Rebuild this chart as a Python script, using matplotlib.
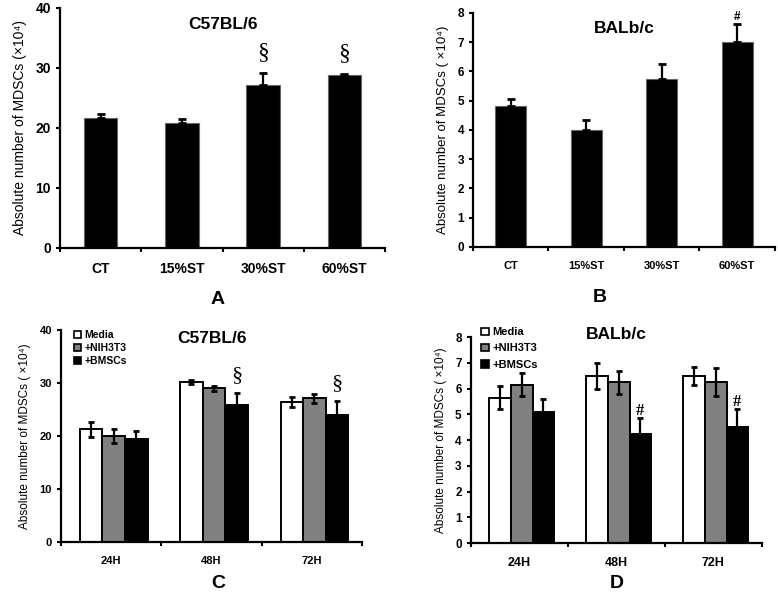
import numpy as np
import matplotlib
matplotlib.use("Agg")
import matplotlib.pyplot as plt
from matplotlib.patches import Patch

plt.rcParams['font.family'] = ['Liberation Sans', 'DejaVu Sans']

# panel A / B data (single series, upward SD only)
groups_ab = ['CT', '15%ST', '30%ST', '60%ST']
a_vals = [21.7, 20.8, 27.2, 28.8]
a_err = [0.6, 0.7, 2.0, 0.2]
a_marks = ['', '', '\u00a7', '\u00a7']
b_vals = [4.8, 4.0, 5.75, 7.0]
b_err = [0.25, 0.32, 0.5, 0.6]
b_marks = ['', '', '', '#']

# panel C / D data (three series)
groups_cd = ['24H', '48H', '72H']
series = ['Media', '+NIH3T3', '+BMSCs']
c_vals = [[21.3, 30.2, 26.4], [20.0, 29.0, 27.1], [19.5, 25.9, 23.9]]
c_err = [[1.4, 0.4, 0.9], [1.4, 0.5, 0.9], [1.4, 2.2, 2.7]]
c_marks = ['', '\u00a7', '\u00a7']
d_vals = [[5.65, 6.5, 6.5], [6.15, 6.25, 6.25], [5.1, 4.25, 4.5]]
d_err = [[0.45, 0.5, 0.35], [0.45, 0.45, 0.55], [0.5, 0.6, 0.7]]
d_marks = ['', '#', '#']
colors = ['white', '#808080', 'black']

fig = plt.figure(figsize=(7.78, 5.93), dpi=100)


def style_axes(ax, n, ymax, ystep, labels, tsize, ysize):
    for s in ['top', 'right']:
        ax.spines[s].set_visible(False)
    for s in ['left', 'bottom']:
        ax.spines[s].set_linewidth(1.6)
    ax.set_xlim(0, n)
    ax.set_ylim(0, ymax)
    ax.set_yticks(np.arange(0, ymax + ystep / 2, ystep))
    ax.set_xticks(np.arange(0, n + 1))
    ax.set_xticklabels([])
    ax.set_xticks(np.arange(n) + 0.5, minor=True)
    ax.set_xticklabels(labels, minor=True, fontweight='bold', fontsize=tsize)
    ax.tick_params(axis='x', which='minor', length=0, pad=10)
    ax.tick_params(axis='x', which='major', length=3, width=1.5, direction='out')
    ax.tick_params(axis='y', length=3, width=1.5, direction='out', labelsize=ysize)
    for t in ax.get_yticklabels():
        t.set_fontweight('bold')


def single_panel(rect, vals, err, marks, ymax, ystep, title, ylabel,
                 tsize, ysize, labsize, msize, mfont, moff, ty):
    ax = fig.add_axes(rect)
    x = np.arange(len(vals)) + 0.5
    ax.bar(x, vals, width=0.41, color='black', edgecolor='#666666', linewidth=0.8, zorder=2)
    ax.errorbar(x, vals, yerr=[np.zeros(len(err)), err], fmt='none', ecolor='black',
                elinewidth=1.6, capsize=3, capthick=2, zorder=3)
    for xi, v, e, m in zip(x, vals, err, marks):
        if m:
            ax.text(xi, v + e + moff, m, ha='center', va='center', fontsize=msize,
                    family=mfont, fontweight='bold' if m == '#' else 'normal')
    style_axes(ax, len(vals), ymax, ystep, groups_ab, tsize, ysize)
    ax.set_title(title, fontweight='bold', fontsize=12.5, y=ty)
    ax.set_ylabel(ylabel, fontsize=labsize, labelpad=6)
    return ax


def group_panel(rect, vals, err, marks, ymax, ystep, title, ylabel,
                tsize, ysize, labsize, msize, mfont, moff, ty, legloc, legsize, legsp):
    ax = fig.add_axes(rect)
    n = len(groups_cd)
    w = 0.225
    base = np.arange(n) + 0.525
    for i in range(3):
        xi = base + (i - 1) * w
        ax.bar(xi, vals[i], width=w, color=colors[i], edgecolor='black',
               linewidth=1.4, zorder=2, label=series[i])
        ax.errorbar(xi, vals[i], yerr=err[i], fmt='none', ecolor='black',
                    elinewidth=1.6, capsize=2.5, capthick=2, zorder=3)
    for xi, v, e, m in zip(base + w, vals[2], err[2], marks):
        if m:
            ax.text(xi, v + e + moff, m, ha='center', va='center', fontsize=msize,
                    family=mfont, fontweight='bold' if m == '#' else 'normal')
    style_axes(ax, n, ymax, ystep, groups_cd, tsize, ysize)
    ax.set_title(title, fontweight='bold', fontsize=12.5, y=ty)
    ax.set_ylabel(ylabel, fontsize=labsize, labelpad=6)
    handles = [Patch(facecolor=c, edgecolor='black', linewidth=1.2) for c in colors]
    ax.legend(handles, series, loc='upper left', bbox_to_anchor=legloc, frameon=False,
              prop={'weight': 'bold', 'size': legsize}, handlelength=0.7, handleheight=0.7,
              handletextpad=0.3, labelspacing=legsp, borderaxespad=0)
    return ax


single_panel([0.077, 0.582, 0.418, 0.405], a_vals, a_err, a_marks, 40, 10,
             'C57BL/6', 'Absolute number of MDSCs (\u00d710\u2074)',
             10, 10, 10, 17, 'Liberation Serif', 3.4, 0.875)
single_panel([0.608, 0.5835, 0.388, 0.395], b_vals, b_err, b_marks, 8, 1,
             'BALb/c', 'Absolute number of MDSCs ( \u00d710\u2074)',
             8, 8.5, 9.5, 8.5, 'Liberation Sans', 0.27, 0.88)
group_panel([0.0784, 0.086, 0.387, 0.3575], c_vals, c_err, c_marks, 40, 10,
            'C57BL/6', 'Absolute number of MDSCs ( \u00d710\u2074)',
            8, 8, 8.5, 16, 'Liberation Serif', 3.3, 0.9, (0.03, 1.02), 7.5, 0.3)
group_panel([0.605, 0.0843, 0.374, 0.347], d_vals, d_err, d_marks, 8, 1,
            'BALb/c', 'Absolute number of MDSCs ( \u00d710\u2074)',
            9, 8.5, 8.5, 12, 'Liberation Serif', 0.3, 0.95, (0.02, 1.07), 8, 0.55)

# panel letters
for lab, px, py in [('A', 218, 300), ('B', 600, 298), ('C', 218, 583), ('D', 617, 583)]:
    fig.text(px / 778, 1 - py / 593, lab, ha='center', va='center',
             fontsize=14, fontweight='bold')

fig.savefig('out.png', dpi=100, facecolor='white')
